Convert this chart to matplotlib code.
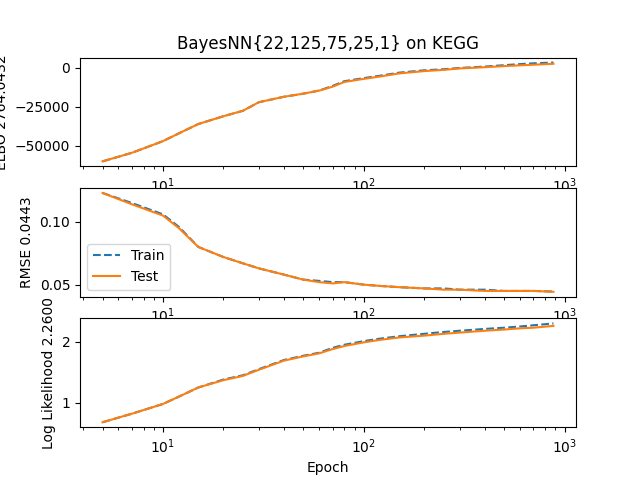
import matplotlib
matplotlib.use("Agg")
import matplotlib.pyplot as plt

epochs = [5, 7, 10, 12, 15, 20, 25, 30, 40, 50, 60, 70, 80, 100, 120, 150, 200, 250, 300, 400, 500, 600, 700, 880]

elbo_train = [-60000, -54500, -47000, -42000, -36000, -31000, -27500, -22000, -18500, -16500, -14500, -11500, -8500, -6500, -5000, -3000, -1500, -800, 0, 900, 1800, 2500, 3000, 3500]
elbo_test = [-60000, -54500, -47000, -42000, -36000, -31000, -27500, -22000, -18500, -16500, -14500, -12000, -9000, -7000, -5500, -3500, -2000, -1200, -300, 500, 1200, 1700, 2100, 2700]

rmse_train = [0.123, 0.115, 0.106, 0.096, 0.080, 0.072, 0.067, 0.063, 0.058, 0.054, 0.053, 0.052, 0.052, 0.050, 0.049, 0.048, 0.047, 0.047, 0.046, 0.046, 0.045, 0.045, 0.045, 0.0445]
rmse_test = [0.123, 0.114, 0.105, 0.095, 0.080, 0.072, 0.067, 0.063, 0.058, 0.054, 0.052, 0.051, 0.052, 0.050, 0.049, 0.048, 0.047, 0.046, 0.046, 0.045, 0.045, 0.045, 0.045, 0.0443]

ll_train = [0.68, 0.82, 0.98, 1.10, 1.25, 1.38, 1.45, 1.55, 1.70, 1.77, 1.82, 1.90, 1.95, 2.01, 2.05, 2.09, 2.13, 2.16, 2.18, 2.21, 2.23, 2.25, 2.27, 2.30]
ll_test = [0.68, 0.82, 0.98, 1.10, 1.25, 1.37, 1.44, 1.54, 1.69, 1.76, 1.81, 1.88, 1.93, 1.99, 2.03, 2.07, 2.10, 2.13, 2.15, 2.18, 2.20, 2.22, 2.23, 2.26]

fig, axes = plt.subplots(3, 1, figsize=(6.4, 4.8))
series = [(elbo_train, elbo_test, "ELBO 2764.0432"),
          (rmse_train, rmse_test, "RMSE 0.0443"),
          (ll_train, ll_test, "Log Likelihood 2.2600")]
for ax, (tr, te, lab) in zip(axes, series):
    ax.plot(epochs, tr, "--", label="Train")
    ax.plot(epochs, te, label="Test")
    ax.set_xscale("log")
    ax.set_ylabel(lab)
axes[0].set_title("BayesNN{22,125,75,25,1} on KEGG")
axes[1].legend(loc="lower left")
axes[2].set_xlabel("Epoch")
fig.savefig("out.png", dpi=100)
